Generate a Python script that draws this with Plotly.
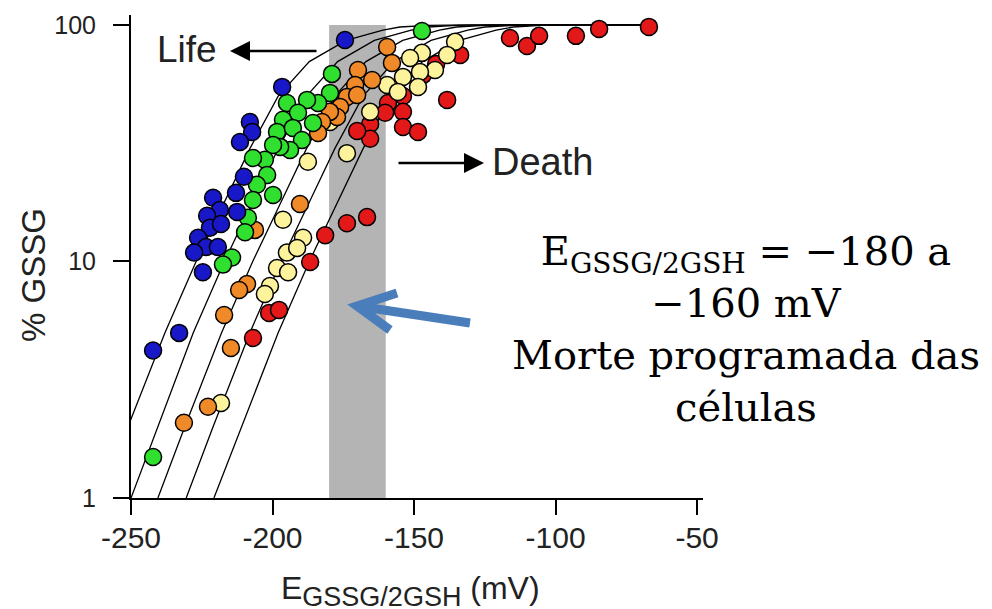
import plotly.graph_objects as go

# ---------------- data ----------------
blue_x = [-174.4, -196.6, -208.0, -207.2, -211.5, -210.1, -212.9, -221.0, -218.6, -212.5,
          -223.1, -222.1, -218.2, -226.3, -223.5, -219.3, -227.7, -224.6, -233.0, -242.2]
blue_y = [86.4, 54.7, 38.9, 35.3, 32.0, 22.8, 19.5, 18.6, 16.5, 16.2,
          15.6, 13.9, 14.4, 12.6, 11.5, 11.5, 10.9, 9.0, 4.99, 4.2]

green_x = [-147.2, -179.0, -179.7, -183.9, -187.8, -194.9, -191.0, -185.7, -196.3, -198.4,
           -192.8, -189.6, -193.8, -197.3, -199.8, -202.7, -206.9, -201.9, -205.5, -199.8,
           -206.9, -208.7, -209.7, -214.3, -217.5, -242.2]
green_y = [94.3, 62.1, 51.6, 46.8, 48.2, 46.8, 42.5, 38.5, 39.7, 35.3,
           36.7, 32.6, 29.6, 30.5, 31.1, 26.9, 27.4, 23.2, 21.1, 19.1,
           18.2, 15.3, 13.3, 10.4, 9.7, 1.49]

orange_x = [-159.5, -157.8, -169.8, -164.8, -170.8, -173.7, -170.1, -176.1, -177.2, -179.7,
            -182.5, -183.9, -190.3, -206.2, -209.0, -211.8, -217.1, -214.7, -222.8, -231.3]
orange_y = [80.7, 69.1, 64.5, 58.5, 55.7, 49.6, 50.6, 45.0, 40.8, 42.9,
            38.9, 34.9, 17.5, 13.6, 8.03, 7.58, 5.94, 4.31, 2.43, 2.08]

yellow_x = [-135.5, -138.3, -147.2, -151.4, -142.6, -147.9, -153.9, -148.6, -159.5, -155.7,
            -165.5, -179.7, -187.5, -173.7, -196.3, -189.2, -194.9, -191.3, -198.4, -194.5,
            -200.9, -202.7, -218.2]
yellow_y = [84.8, 74.7, 76.2, 72.5, 64.5, 63.3, 60.3, 54.7, 55.7, 52.1,
            42.9, 38.9, 26.4, 28.7, 15.0, 12.6, 10.9, 11.4, 9.39, 9.0,
            7.88, 7.29, 2.52]

red_x = [-116.1, -110.1, -105.8, -92.8, -84.6, -67.0, -138.3, -133.7, -142.2, -146.8,
         -153.9, -153.9, -153.9, -148.6, -159.2, -160.2, -165.5, -165.5, -170.1, -173.7,
         -166.6, -181.4, -186.7, -206.9, -201.2, -197.7]
red_y = [88.1, 81.5, 89.9, 89.9, 96.2, 98.1, 48.2, 74.7, 68.4, 61.5,
         50.1, 42.9, 37.0, 35.3, 46.8, 42.5, 38.1, 33.0, 35.6, 14.5,
         15.4, 12.9, 9.95, 4.75, 6.06, 6.24]

curve_pct = [1, 2, 5, 10, 20, 30, 50, 70, 86, 95, 98, 99.5, 100, 100]
curve1_x = [-261, -251, -238, -227, -215, -208, -198, -187, -174, -161, -155, -145, -130, -68]
curve2_x = [-250, -240.5, -228, -217, -205, -198, -188, -177, -164, -151, -145, -135, -120, -68]
curve3_x = [-240.5, -231, -218, -207, -195, -188, -178, -167, -154, -141, -135, -125, -110, -68]
curve4_x = [-230.5, -221, -208, -197, -185, -178, -168, -157, -144, -131, -125, -115, -100, -68]
curve5_x = [-220.7, -211, -198, -187, -175, -168, -158, -147, -134, -121, -115, -105, -90, -68]

band_x = [-180, -160]
x_ticks = [-250, -200, -150, -100, -50]
x_ticktext = ["-250", "-200", "-150", "-100", "-50"]
y_ticks = [1, 10, 100]
y_ticktext = ["1", "10", "100"]

# ---------------- figure ----------------
fig = go.Figure()

for cx in [curve1_x, curve2_x, curve3_x, curve4_x, curve5_x]:
    fig.add_trace(go.Scatter(x=cx, y=curve_pct, mode="lines",
                             line=dict(color="black", width=1.3),
                             hoverinfo="skip", showlegend=False))

def dots(xs, ys, color):
    fig.add_trace(go.Scatter(x=xs, y=ys, mode="markers", showlegend=False,
                             marker=dict(size=17, color=color,
                                         line=dict(color="black", width=1.5))))

dots(red_x, red_y, "#e31818")
dots(yellow_x, yellow_y, "#fdf39c")
dots(orange_x, orange_y, "#f08a28")
dots(green_x, green_y, "#2fe02f")
dots(blue_x, blue_y, "#1818c8")

L, R, T, B = 131, 289, 15, 111
W, H = 992, 609
pw = W - L - R
ph = H - T - B

def px(xp):
    return (xp - L) / pw

def py(yp):
    return (H - B - yp) / ph

shapes = [
    dict(type="rect", xref="x", yref="paper", x0=band_x[0], x1=band_x[1],
         y0=0, y1=py(25), fillcolor="#b4b4b4", line=dict(width=0), layer="below"),
    dict(type="path", xref="paper", yref="paper",
         path=f"M {px(470)} {py(323)} L {px(357)} {py(306)} M {px(397)} {py(293)} "
              f"L {px(357)} {py(306)} L {px(390)} {py(330)}",
         line=dict(color="#4a7ebb", width=9)),
]

sans = "Liberation Sans, Arial, sans-serif"

annotations = [
    dict(x=px(187), y=py(50), xref="paper", yref="paper", text="Life", showarrow=False,
         font=dict(family=sans, size=37, color="#222"),
         xanchor="center", yanchor="middle"),
    dict(x=px(542), y=py(162), xref="paper", yref="paper", text="Death", showarrow=False,
         font=dict(family=sans, size=38, color="#222"),
         xanchor="center", yanchor="middle"),
    dict(x=px(230), y=py(51), xref="paper", yref="paper", text="", showarrow=True,
         ax=88, ay=0, arrowhead=2, arrowwidth=2.5, arrowsize=1.6, arrowcolor="black"),
    dict(x=px(484), y=py(163), xref="paper", yref="paper", text="", showarrow=True,
         ax=-87, ay=0, arrowhead=2, arrowwidth=2.5, arrowsize=1.6, arrowcolor="black"),
    dict(x=px(33), y=py(275), xref="paper", yref="paper", text="% GSSG", showarrow=False,
         textangle=-90, font=dict(family=sans, size=33, color="#222"),
         xanchor="center", yanchor="middle"),
    dict(x=px(410), y=py(568), xref="paper", yref="paper",
         text="E<sub><span style='font-size:27px'>GSSG/2GSH</span></sub> (mV)", showarrow=False,
         font=dict(family=sans, size=32, color="#222"),
         xanchor="center", yanchor="top"),
    dict(x=px(746), y=py(329), xref="paper", yref="paper",
         text="E<sub>GSSG/2GSH</sub> = \u2212180 a<br>\u2212160 mV<br>Morte programada das<br>células",
         showarrow=False, align="center",
         font=dict(family="DejaVu Serif, serif", size=40, color="black"),
         xanchor="center", yanchor="middle"),
]

fig.update_layout(
    width=W, height=H,
    margin=dict(l=L, r=R, t=T, b=B),
    paper_bgcolor="white", plot_bgcolor="white",
    showlegend=False,
    shapes=shapes,
    annotations=annotations,
    xaxis=dict(range=[-250, -47.9], tickvals=x_ticks, ticktext=x_ticktext,
               showgrid=False, zeroline=False, showline=True, linecolor="black", linewidth=2,
               ticks="outside", ticklen=15, tickwidth=2, tickcolor="black",
               tickfont=dict(family=sans, size=30, color="#222"), ticklabelstandoff=-3),
    yaxis=dict(type="log", range=[0, 2.042], tickvals=y_ticks, ticktext=y_ticktext,
               showgrid=False, zeroline=False, showline=True, linecolor="black", linewidth=2,
               ticks="outside", ticklen=16, tickwidth=2, tickcolor="black",
               tickfont=dict(family=sans, size=25, color="#222"), ticklabelstandoff=12),
)

fig.write_html("out.html")
